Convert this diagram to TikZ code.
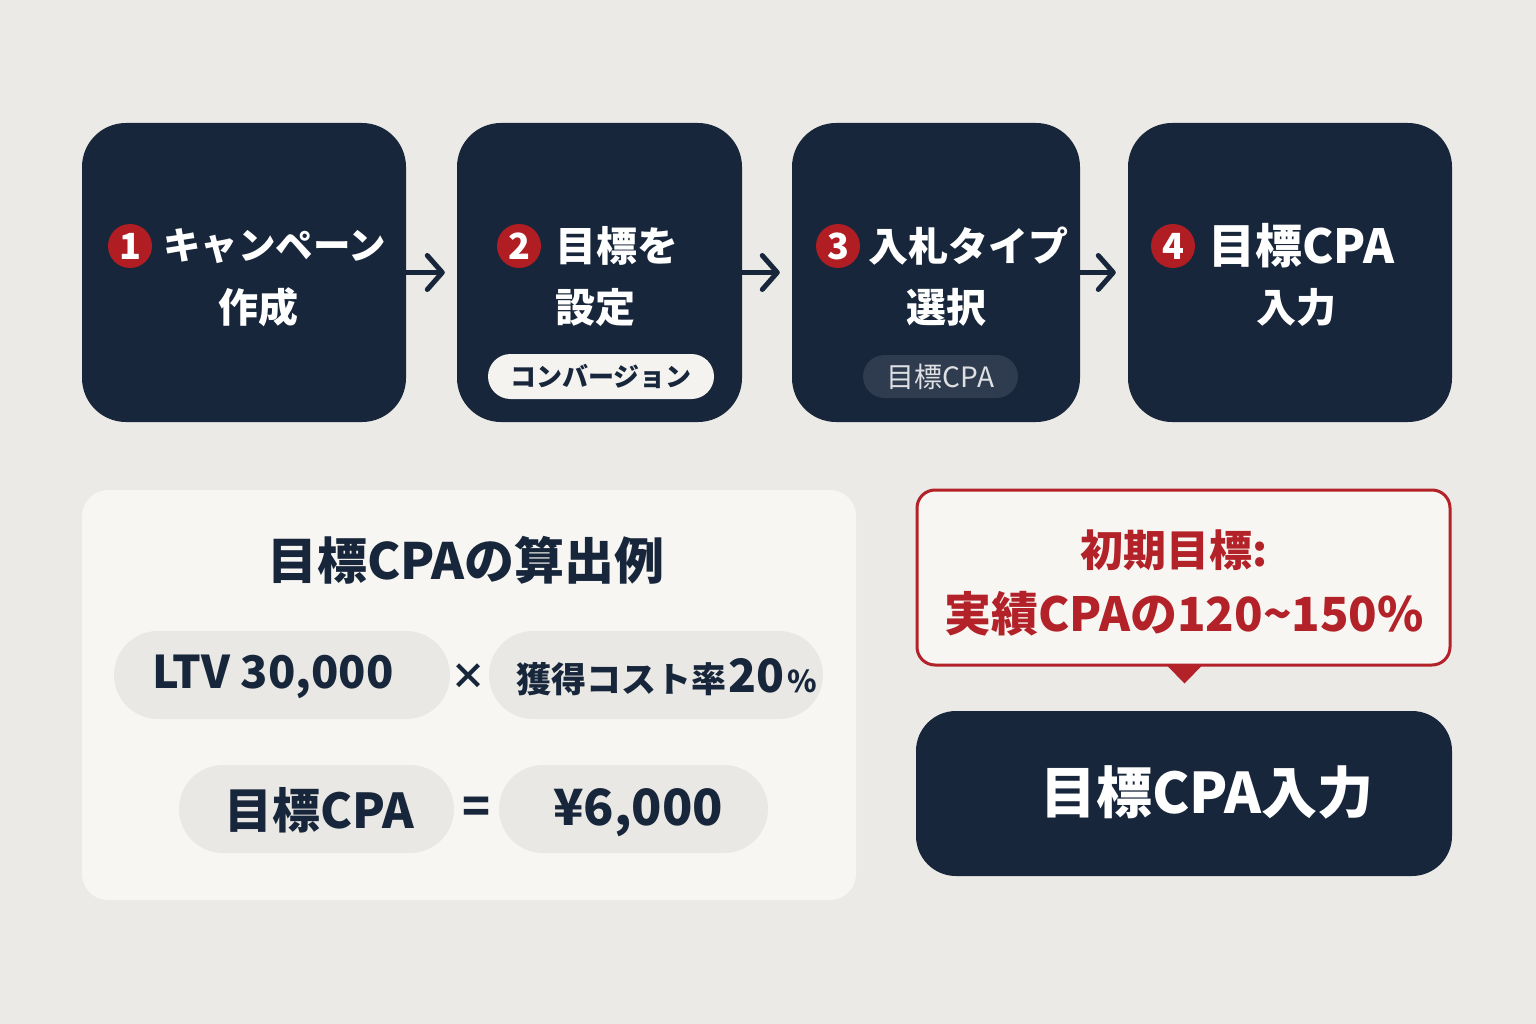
\documentclass[tikz,border=0pt]{standalone}
\usepackage{fontspec}
\newfontfamily\jp{Noto Sans CJK JP}
\usetikzlibrary{arrows.meta}
\definecolor{bg}{RGB}{235,234,230}
\definecolor{navy}{RGB}{23,38,58}
\definecolor{badgered}{RGB}{176,30,35}
\definecolor{callred}{RGB}{178,34,40}
\definecolor{panel}{RGB}{247,246,242}
\definecolor{pillgrey}{RGB}{233,232,228}
\definecolor{pillwhite}{RGB}{244,243,239}
\definecolor{pilldark}{RGB}{47,59,78}
\definecolor{pilltext}{RGB}{222,224,228}
\newcommand\fsz[1]{\fontsize{#1}{#1}\selectfont}
\tikzset{
  stepbox/.style={fill=navy, rounded corners=44pt, inner sep=0pt, draw=none},
  badge/.style={circle, fill=badgered, minimum size=44pt, inner sep=0pt, text=white, font=\jp\bfseries\fsz{36}},
  steptext/.style={inner sep=0pt, text=white, font=\jp\bfseries\fsz{40}},
  flowarrow/.style={draw=navy, line width=5pt, line cap=round, -{Straight Barb[length=15pt,width=34pt,round]}, shorten >=12pt},
  pill/.style={fill=pillgrey, rounded corners=44pt, inner sep=0pt, minimum height=88pt},
  calctext/.style={inner sep=0pt, text=navy, font=\jp\bfseries\fsz{46}},
}
\begin{document}
\begin{tikzpicture}[x=1pt,y=-1pt]
\useasboundingbox[fill=bg] (0,0) rectangle (1536,1024);

% step boxes
\node[stepbox, minimum width=324pt, minimum height=299pt] (b1) at (244,272.5) {};
\node[stepbox, minimum width=285pt, minimum height=299pt] (b2) at (599.5,272.5) {};
\node[stepbox, minimum width=288pt, minimum height=299pt] (b3) at (936,272.5) {};
\node[stepbox, minimum width=324pt, minimum height=299pt] (b4) at (1290,272.5) {};

\draw[flowarrow] (b1.east) -- (b2.west);
\draw[flowarrow] (b2.east) -- (b3.west);
\draw[flowarrow] (b3.east) -- (b4.west);

% box 1
\node[badge] (n1) at (130,246) {1};
\node[steptext, anchor=west, font=\jp\bfseries\fsz{37.5}] (t1a) at (163,246) {キャンペーン};
\node[steptext] (t1b) at (258,307) {作成};
% box 2
\node[badge] (n2) at (519,246) {2};
\node[steptext, anchor=west, font=\jp\bfseries\fsz{41}] (t2a) at (555,246) {目標を};
\node[steptext] (t2b) at (595,307) {設定};
\node[fill=pillwhite, rounded corners=22.5pt, minimum width=226pt, minimum height=45pt, inner sep=0pt, text=navy, font=\jp\bfseries\fsz{26}] (p2) at (601,376.5) {コンバージョン};
% box 3
\node[badge] (n3) at (838,246) {3};
\node[steptext, anchor=west] (t3a) at (868,246) {入札タイプ};
\node[steptext] (t3b) at (946,307) {選択};
\node[fill=pilldark, rounded corners=21.5pt, minimum width=155pt, minimum height=43pt, inner sep=0pt, text=pilltext, font=\jp\fsz{28}] (p3) at (940.5,376.5) {目標CPA};
% box 4
\node[badge] (n4) at (1173,246) {4};
\node[steptext, anchor=west, font=\jp\bfseries\fsz{47}] (t4a) at (1208,246) {目標CPA};
\node[steptext] (t4b) at (1296,307) {入力};

% calculation panel
\node[fill=panel, rounded corners=26pt, minimum width=774pt, minimum height=410pt, inner sep=0pt] (calc) at (469,695) {};
\node[calctext, font=\jp\bfseries\fsz{50}] (ctitle) at (466,560) {目標CPAの算出例};
\node[pill, minimum width=336pt] (q1) at (282,675) {};
\node[pill, minimum width=334pt] (q2) at (656,675) {};
\node[pill, minimum width=275pt] (q3) at (316.5,809) {};
\node[pill, minimum width=269pt] (q4) at (633.5,809) {};
\node[calctext, font=\jp\bfseries\fsz{45}, anchor=west] (ltv) at (152,677) {LTV\hspace{10pt}30,000};
\node[calctext, font=\jp\bfseries\fsz{36}] (times) at (468,677) {×};
\node[calctext, font=\jp\bfseries\fsz{35}, anchor=west] (rate) at (516,677) {獲得コスト率\hspace{2pt}{\fsz{46}20}\hspace{3pt}{\fsz{30}\%}};
\node[calctext, font=\jp\bfseries\fsz{48}] (tcpa) at (319.5,810) {目標CPA};
\node[calctext] (eq) at (477,810) {=};
\node[calctext, font=\jp\bfseries\fsz{50}] (yen) at (638,813) {¥6,000};

% callout
\node[fill=panel, draw=callred, line width=3pt, rounded corners=18pt, minimum width=533pt, minimum height=175pt, inner sep=0pt] (call) at (1183.5,577.5) {};
\fill[callred] ([xshift=-17pt,yshift=1.5pt]call.south) -- ([xshift=19pt,yshift=1.5pt]call.south) -- ([xshift=1pt,yshift=-17pt]call.south) -- cycle;
\node[inner sep=0pt, text=callred, font=\jp\bfseries\fsz{43}] (c1) at (1174,550) {初期目標:};
\node[inner sep=0pt, text=callred, font=\jp\bfseries\fsz{47}] (c2) at (1184,614) {実績CPAの120\textasciitilde150\%};

% final box
\node[stepbox, rounded corners=40pt, minimum width=536pt, minimum height=165pt] (final) at (1184,793.5) {};
\node[steptext, font=\jp\bfseries\fsz{56}] (ftext) at (1207,792) {目標CPA入力};
\end{tikzpicture}
\end{document}
